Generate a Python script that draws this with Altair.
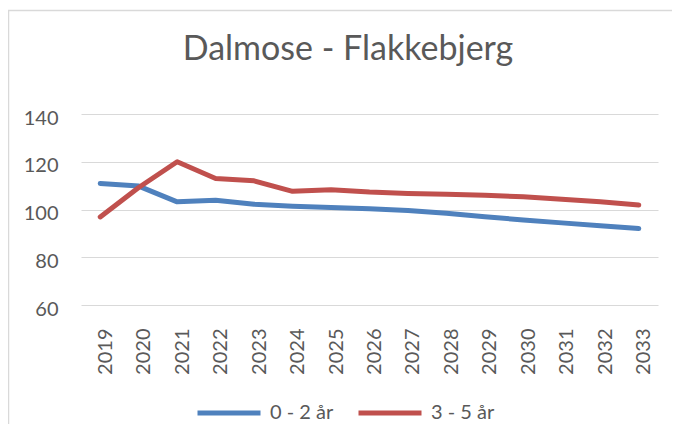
import altair as alt
import pandas as pd

years = [str(y) for y in range(2019, 2034)]
series_names = ["0 - 2 år", "3 - 5 år"]
blue_vals = [110.9, 109.8, 103.2, 103.9, 102.2, 101.4, 100.8, 100.3, 99.6, 98.4, 97.0, 95.6, 94.4, 93.2, 92.0]
red_vals = [96.9, 109.2, 120.0, 113.0, 112.0, 107.6, 108.3, 107.3, 106.7, 106.4, 106.0, 105.3, 104.3, 103.2, 101.9]
y_ticks = [60, 80, 100, 120, 140]
colors = ["#4F81BD", "#C0504D"]

rows = []
for name, vals in zip(series_names, [blue_vals, red_vals]):
    for yr, v in zip(years, vals):
        rows.append({"year": yr, "value": v, "series": name})
df = pd.DataFrame(rows)

TXT = "#595959"
FONT = "Lato"

lines = alt.Chart(df).mark_line(strokeWidth=5, strokeCap="round", strokeJoin="round").encode(
    x=alt.X("year:O", scale=alt.Scale(type="point", padding=0.5),
            axis=alt.Axis(title=None, labelAngle=-90, labelAlign="right", labelBaseline="middle",
                          labelPadding=23, labelOffset=5, ticks=False, tickSize=0, domain=False,
                          grid=False, labelFontSize=20, labelColor=TXT, labelFont=FONT)),
    y=alt.Y("value:Q", scale=alt.Scale(domain=[60, 140], nice=False, zero=False),
            axis=alt.Axis(title=None, values=y_ticks, ticks=False, tickSize=0, domain=False,
                          labelPadding=23, labelOffset=4, labelFontSize=20, labelColor=TXT, labelFont=FONT,
                          gridColor="#D9D9D9", gridWidth=1.2)),
    color=alt.Color("series:N", scale=alt.Scale(domain=series_names, range=colors),
                    legend=alt.Legend(title=None, orient="none", direction="horizontal",
                                      legendX=114, legendY=265, symbolType="stroke",
                                      symbolSize=3969, symbolStrokeWidth=5, labelFontSize=20,
                                      labelColor=TXT, labelFont=FONT, labelOffset=7,
                                      columnPadding=14, padding=0)),
)

border = alt.Chart(pd.DataFrame({"k": [0]})).mark_rect(fill=None, stroke="#D9D9D9", strokeWidth=1.5).encode(
    x=alt.value(-72.5), x2=alt.value(800), y=alt.value(-103.5), y2=alt.value(600)
)

chart = alt.layer(border, lines).properties(
    width=577, height=191,
    autosize=alt.AutoSizeParams(type="none"),
    padding={"left": 73, "top": 106, "right": 14, "bottom": 119},
    title=alt.TitleParams("Dalmose - Flakkebjerg", font=FONT, fontSize=34, fontWeight="normal",
                          color=TXT, anchor="middle", dx=-21.5, offset=-84, baseline="alphabetic"),
).configure_view(stroke=None)

chart.save("out.html", embed_options={"renderer": "svg", "actions": False})
